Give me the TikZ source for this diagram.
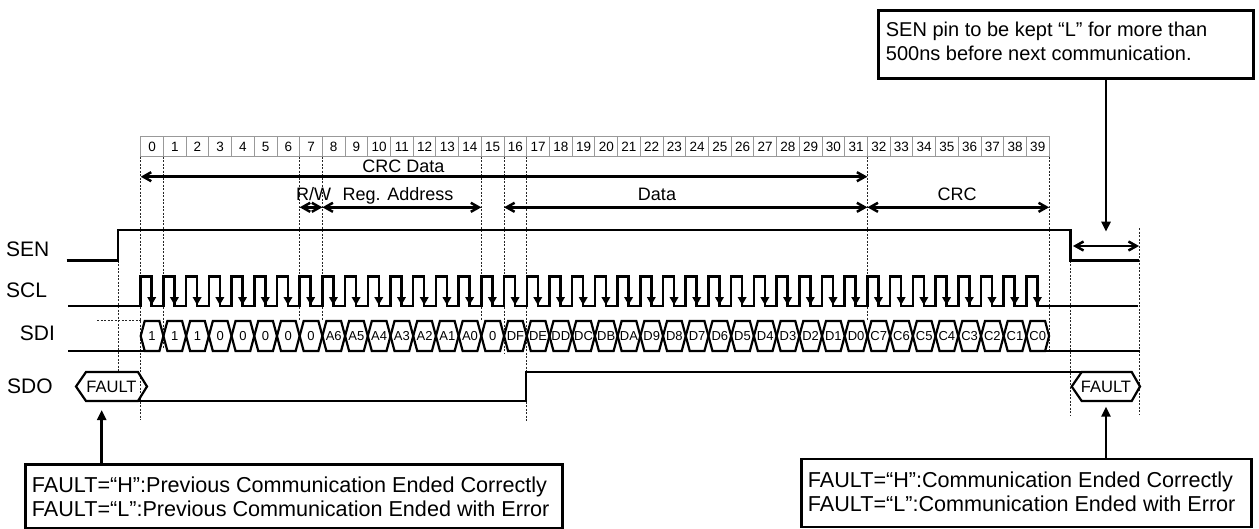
\documentclass[tikz,border=0pt]{standalone}
\usepackage{fontspec}
\setmainfont{Liberation Sans}
\usetikzlibrary{arrows.meta}
\begin{document}
\begin{tikzpicture}[x=1pt,y=-1pt,
  sig/.style={line width=2.5pt, line join=miter},
  hexline/.style={line width=2.2pt, line join=miter},
  guide/.style={line width=0.8pt, dash pattern=on 2pt off 1.5pt, black!85},
  numcell/.style={draw=black!40, line width=0.9pt, minimum width=22.71pt, minimum height=20pt, inner sep=0pt, font=\fontsize{13.5}{13.5}\selectfont},
  sdilab/.style={inner sep=0pt, text height=9.5pt, text depth=0pt, font=\fontsize{13}{13}\selectfont},
  faultlab/.style={inner sep=0pt, font=\fontsize{16.5}{16.5}\selectfont},
  siglab/.style={inner sep=0pt, anchor=base west, font=\fontsize{21}{21}\selectfont},
  dimlab/.style={inner sep=0pt, anchor=base, font=\fontsize{18}{18}\selectfont},
  boxtxt/.style={inner sep=0pt, anchor=base west, font=\fontsize{20}{20}\selectfont},
  boxtxtb/.style={inner sep=0pt, anchor=base west, font=\fontsize{21.6}{21.6}\selectfont},
  notebox/.style={draw, line width=2.5pt, inner sep=0pt, anchor=north west},
  dim/.style={line width=2.5pt, {Straight Barb[length=8pt,width=9pt]}-{Straight Barb[length=8pt,width=9pt]}},
  clkarrow/.style={line width=2.5pt, -{Triangle[length=8pt,width=8.5pt]}},
  callout/.style={line width=2.5pt, -{Triangle[length=10pt,width=9pt]}}
]
\useasboundingbox (0,0) rectangle (1259,528);
\def\xo{140.7}
\def\cw{22.71}

% bit number row
\foreach \i in {0,...,39}{
  \node[numcell] (n\i) at ({\xo+(\i+0.5)*\cw},146.7) {\i};
}

% vertical guide lines
\foreach \i/\yb in {0/420,1/348,7/320,8/320,15/320,16/354,17/421.7,32/320,40/352}{
  \draw[guide] ({\xo+\i*\cw},156.7) -- ({\xo+\i*\cw},\yb);
}
\draw[guide] (118,260.7) -- (118,372);
\draw[guide] (1070.7,260.7) -- (1070.7,415);
\draw[guide] (1139.5,228) -- (1139.5,415);
\draw[guide] (97,320.5) -- (\xo,320.5);

% dimension arrows
\coordinate (a0) at (\xo,176.7);
\coordinate (a32) at ({\xo+32*\cw},176.7);
\coordinate (b7) at ({\xo+7*\cw},207.3);
\coordinate (b8) at ({\xo+8*\cw},207.3);
\coordinate (b15) at ({\xo+15*\cw},207.3);
\coordinate (b16) at ({\xo+16*\cw},207.3);
\coordinate (b32) at ({\xo+32*\cw},207.3);
\coordinate (b40) at ({\xo+40*\cw},207.3);
\draw[dim] (a0) -- (a32);
\draw[dim] (b7) -- (b8);
\draw[dim] (b8) -- (b15);
\draw[dim] (b16) -- (b32);
\draw[dim] (b32) -- (b40);
\node[dimlab] (lcrcdata) at (403.5,172.7) {CRC Data};
\node[dimlab] (lrw) at (313.5,200.5) {R/W};
\node[dimlab] (lreg) at (398,200.5) {Reg. Address};
\node[dimlab] (ldata) at (657,200.5) {Data};
\node[dimlab] (lcrc) at (957,200.5) {CRC};

% signal labels
\node[siglab] (lsen) at (6,256) {SEN};
\node[siglab] (lscl) at (6,297.3) {SCL};
\node[siglab] (lsdi) at (19.7,340.7) {SDI};
\node[siglab] (lsdo) at (7,393.3) {SDO};

% SEN
\draw[sig] (66.7,260.7) -- (118,260.7) -- (118,230) -- (1070.7,230) -- (1070.7,260.7) -- (1139,260.7);
\coordinate (senA) at (1073,246);
\coordinate (senB) at (1139,246);
\draw[dim] (senA) -- (senB);

% SCL
\draw[sig] (68,306) foreach \i in {0,...,39}{
  -- ({\xo+\i*\cw},306) -- ({\xo+\i*\cw},276.7) -- ({\xo+\i*\cw+11},276.7) -- ({\xo+\i*\cw+11},306)
} -- (1138,306);
\foreach \i in {0,...,39}{
  \draw[clkarrow] ({\xo+\i*\cw+11},288) -- ({\xo+\i*\cw+11},305);
}

% SDI
\draw[sig] (68,351) -- ({\xo+4},351);
\draw[sig] ({\xo+40*\cw-4},351) -- (1140,351);
\foreach \lab [count=\i from 0] in {1,1,1,0,0,0,0,0,A6,A5,A4,A3,A2,A1,A0,0,DF,DE,DD,DC,DB,DA,D9,D8,D7,D6,D5,D4,D3,D2,D1,D0,C7,C6,C5,C4,C3,C2,C1,C0}{
  \draw[hexline] ({\xo+\i*\cw},336) -- ({\xo+\i*\cw+4},321) -- ({\xo+(\i+1)*\cw-4},321) -- ({\xo+(\i+1)*\cw},336) -- ({\xo+(\i+1)*\cw-4},351) -- ({\xo+\i*\cw+4},351) -- cycle;
  \node[sdilab] (d\i) at ({\xo+(\i+0.5)*\cw},336) {\lab};
}

% SDO
\draw[hexline] (76,386.5) -- (86,372) -- (138,372) -- (147,386.5) -- (138,401) -- (86,401) -- cycle;
\node[faultlab] (fault1) at (111.5,386.5) {FAULT};
\draw[hexline] (1071.7,386.5) -- (1081.7,372) -- (1131.7,372) -- (1140,386.5) -- (1131.7,401) -- (1081.7,401) -- cycle;
\node[faultlab] (fault2) at (1106,386.5) {FAULT};
\draw[sig] (138,401) -- (526,401) -- (526,372) -- (1081.7,372);

% note boxes
\node[notebox, minimum width=375pt, minimum height=68pt] (senbox) at (877,9) {};
\node[boxtxt] (sent1) at (885.7,36.7) {SEN pin to be kept “L” for more than};
\node[boxtxt] (sent2) at (885.7,60) {500ns before next communication.};
\coordinate (sentip) at (1106,231.7);
\draw[callout] (senbox.south -| sentip) -- (sentip);

\node[notebox, minimum width=537pt, minimum height=64pt] (lbox) at (24,463) {};
\node[boxtxtb] (lt1) at (31.7,492.7) {FAULT=“H”:Previous Communication Ended Correctly};
\node[boxtxtb] (lt2) at (31.7,516.7) {FAULT=“L”:Previous Communication Ended with Error};
\coordinate (ltip) at (101.7,410);
\draw[callout] (lbox.north -| ltip) -- (ltip);

\node[notebox, minimum width=450pt, minimum height=68pt] (rbox) at (800,457.7) {};
\node[boxtxtb] (rt1) at (807.7,487.3) {FAULT=“H”:Communication Ended Correctly};
\node[boxtxtb] (rt2) at (807.7,511.7) {FAULT=“L”:Communication Ended with Error};
\coordinate (rtip) at (1106,406.7);
\draw[callout] (rbox.north -| rtip) -- (rtip);
\end{tikzpicture}
\end{document}
